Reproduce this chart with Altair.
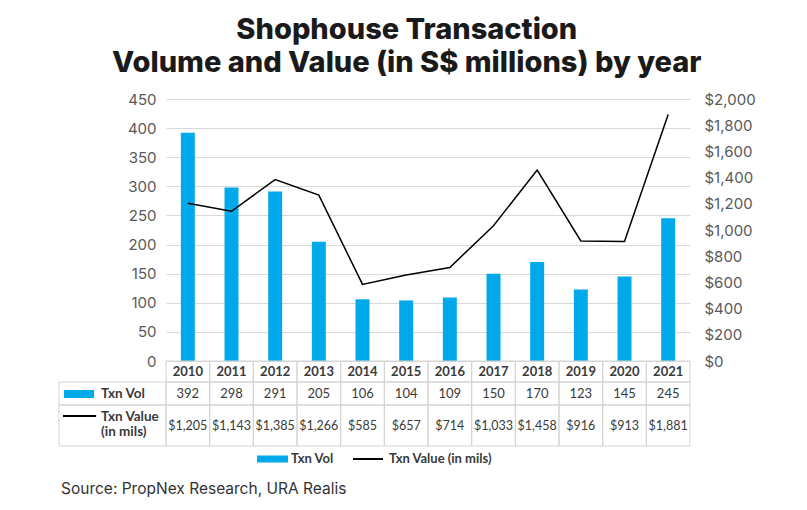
import altair as alt
import pandas as pd

years = ["2010", "2011", "2012", "2013", "2014", "2015", "2016", "2017", "2018", "2019", "2020", "2021"]
txn_vol = [392, 298, 291, 205, 106, 104, 109, 150, 170, 123, 145, 245]
txn_value = [1205, 1143, 1385, 1266, 585, 657, 714, 1033, 1458, 916, 913, 1881]
left_ticks = [0, 50, 100, 150, 200, 250, 300, 350, 400, 450]
right_ticks = [0, 200, 400, 600, 800, 1000, 1200, 1400, 1600, 1800, 2000]
title_lines = ["Shophouse Transaction", "Volume and Value (in S$ millions) by year"]
vol_label = "Txn Vol"
value_label = ["Txn Value", "(in mils)"]
legend_labels = ["Txn Vol", "Txn Value (in mils)"]
source_text = "Source: PropNex Research, URA Realis"

FONT = "Inter"
TFONT = "Lato"
BLUE = "#00A9EA"
GRID = "#d9d9d9"
BORDER = "#d4d4d4"
AXIS_TXT = "#595959"
TXT = "#3a3a3a"

W, H = 524, 262
TH = 139

df = pd.DataFrame({"year": years, "vol": txn_vol, "value": txn_value})

x_main = alt.X("year:N", sort=years,
               scale=alt.Scale(paddingInner=0.68, paddingOuter=0.34), axis=None)

bars = alt.Chart(df).mark_bar(color=BLUE).encode(
    x=x_main,
    y=alt.Y("vol:Q", scale=alt.Scale(domain=[0, 450], nice=False),
            axis=alt.Axis(values=left_ticks, grid=True, gridColor=GRID, domain=False,
                          ticks=False, labelPadding=10, labelFontSize=15,
                          labelColor=AXIS_TXT, labelFont=FONT, title=None)),
)
line = alt.Chart(df).mark_line(color="black", strokeWidth=1.5).encode(
    x=x_main,
    y=alt.Y("value:Q", scale=alt.Scale(domain=[0, 2000], nice=False),
            axis=alt.Axis(orient="right", values=right_ticks, format="$,d", grid=False,
                          domain=False, ticks=False, labelPadding=14, labelFontSize=15,
                          labelColor=AXIS_TXT, labelFont=FONT, title=None)),
)
main = alt.layer(bars, line).resolve_scale(y="independent").properties(width=W, height=H)

# ---- table ----
rows = [(0, 21), (21, 44), (44, 85)]
cells = []
for i in range(12):
    for (t, b) in rows:
        cells.append({"x": i, "x2": i + 1, "y": t, "y2": b})
for (t, b) in rows[1:]:
    cells.append({"x": -2.45, "x2": 0, "y": t, "y2": b})
cells_df = pd.DataFrame(cells)

xs = alt.Scale(domain=[0, 12], nice=False, zero=False)
ys = alt.Scale(domain=[0, TH], reverse=True, nice=False, zero=False)

def X(f="x"):
    return alt.X(f"{f}:Q", scale=xs, axis=None)

def Y(f="y"):
    return alt.Y(f"{f}:Q", scale=ys, axis=None)

grid_rects = alt.Chart(cells_df).mark_rect(fillOpacity=0, stroke=BORDER, strokeWidth=1).encode(
    x=X(), x2="x2:Q", y=Y(), y2="y2:Q")

hdr_df = pd.DataFrame({"x": [i + 0.5 for i in range(12)], "y": [10.5] * 12, "t": years})
hdr = alt.Chart(hdr_df).mark_text(font=TFONT, fontSize=13, fontWeight="bold", color=TXT).encode(
    x=X(), y=Y(), text="t:N")

vol_df = pd.DataFrame({"x": [i + 0.5 for i in range(12)], "y": [32.5] * 12,
                       "t": [str(v) for v in txn_vol]})
vol_t = alt.Chart(vol_df).mark_text(font=TFONT, fontSize=13, color=TXT).encode(
    x=X(), y=Y(), text="t:N")

val_df = pd.DataFrame({"x": [i + 0.5 for i in range(12)], "y": [64.5] * 12,
                       "t": ["${:,}".format(v) for v in txn_value]})
val_t = alt.Chart(val_df).mark_text(font=TFONT, fontSize=12.5, color=TXT).encode(
    x=X(), y=Y(), text="t:N")

lab_df = pd.DataFrame({"x": [-1.488, -1.488, -1.488], "y": [32.5, 55.5, 71],
                       "t": [vol_label] + value_label})
lab_t = alt.Chart(lab_df).mark_text(font=TFONT, fontSize=13.5, fontWeight="bold", color=TXT,
                                    align="left").encode(
    x=X(), y=Y(), text="t:N")

sw_df = pd.DataFrame({"x": [-2.336, 2.084], "x2": [-1.649, 2.794], "y": [29, 94.5], "y2": [37, 101.5]})
sw = alt.Chart(sw_df).mark_rect(color=BLUE).encode(x=X(), x2="x2:Q", y=Y(), y2="y2:Q")

ln_df = pd.DataFrame({"x": [-2.36, 4.282], "x2": [-1.60, 4.969], "y": [55, 98]})
ln = alt.Chart(ln_df).mark_rule(color="black", strokeWidth=2).encode(x=X(), x2="x2:Q", y=Y())

leg_df = pd.DataFrame({"x": [2.862, 5.106], "y": [98, 98], "t": legend_labels})
leg_t = alt.Chart(leg_df).mark_text(font=TFONT, fontSize=13, fontWeight="bold", color=TXT,
                                    align="left").encode(x=X(), y=Y(), text="t:N")

src_df = pd.DataFrame({"x": [-2.404], "y": [128], "t": [source_text]})
src_t = alt.Chart(src_df).mark_text(font=FONT, fontSize=15.5, color="#333333",
                                    align="left").encode(x=X(), y=Y(), text="t:N")

table = alt.layer(grid_rects, hdr, vol_t, val_t, lab_t, sw, ln, leg_t, src_t).properties(
    width=W, height=TH)

chart = alt.vconcat(main, table, spacing=0, bounds="flush").properties(
    title=alt.Title(title_lines, fontSize=29, font=FONT, fontWeight=800, color="#1a1a1a",
                    anchor="middle", lineHeight=33, offset=14),
    padding={"left": 50, "top": 8, "right": 5, "bottom": 5},
).configure_view(stroke=None)

chart.save("out.html", embed_options={"renderer": "svg", "actions": False})
